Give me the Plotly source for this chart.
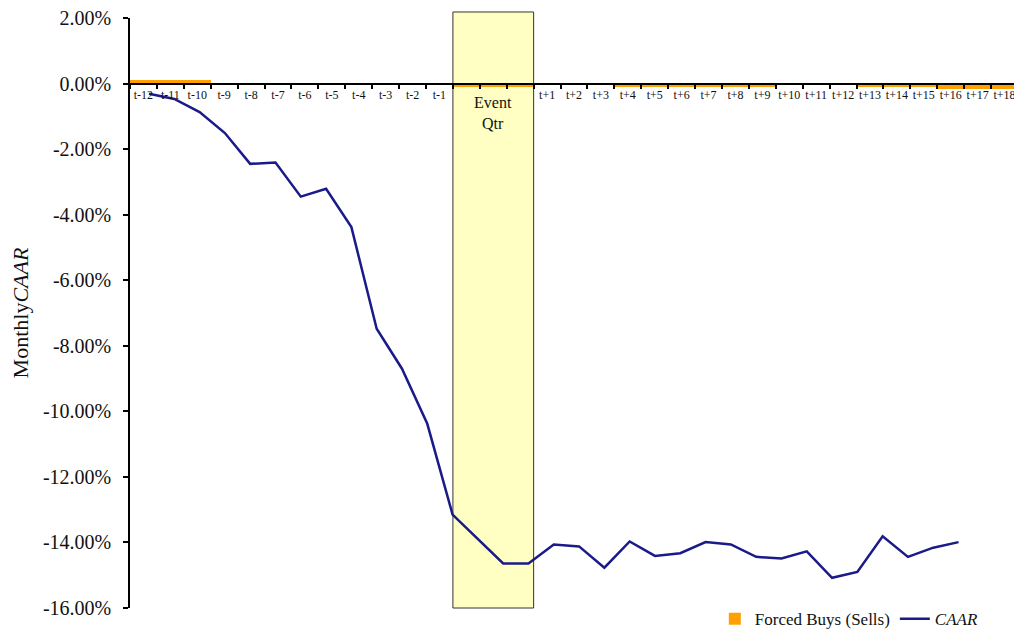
import plotly.graph_objects as go

# ---- data ----
months = ["t-12", "t-11", "t-10", "t-9", "t-8", "t-7", "t-6", "t-5", "t-4", "t-3", "t-2", "t-1",
          "E1", "E2", "E3",
          "t+1", "t+2", "t+3", "t+4", "t+5", "t+6", "t+7", "t+8", "t+9", "t+10", "t+11", "t+12",
          "t+13", "t+14", "t+15", "t+16", "t+17", "t+18"]
event_months = ["E1", "E2", "E3"]
month_labels = ["" if m in event_months else m for m in months]

forced_buys = [0.10, 0.10, 0.10, 0.0, 0.0, 0.0, 0.0, 0.0, 0.0, 0.0, 0.0, 0.0,
               -0.09, -0.09, -0.09,
               -0.05, -0.05, -0.05, -0.12, -0.12, -0.12, -0.12, -0.12, -0.12,
               -0.02, -0.02, -0.02, -0.12, -0.12, -0.12, -0.16, -0.16, -0.16]

caar_months = ["t-12", "t-11", "t-10", "t-9", "t-8", "t-7", "t-6", "t-5", "t-4", "t-3", "t-2", "t-1",
               "E1", "E3",
               "t+1", "t+2", "t+3", "t+4", "t+5", "t+6", "t+7", "t+8", "t+9", "t+10", "t+11", "t+12",
               "t+13", "t+14", "t+15", "t+16", "t+17", "t+18"]
caar = [-0.31, -0.47, -0.87, -1.51, -2.45, -2.41, -3.45, -3.21, -4.38, -7.48, -8.70, -10.38,
        -13.15, -14.64,
        -14.64, -14.06, -14.12, -14.77, -13.97, -14.41, -14.33, -13.99, -14.06, -14.44, -14.49, -14.27,
        -15.08, -14.90, -13.81, -14.44, -14.16, -13.99]

y_ticks = [2, 0, -2, -4, -6, -8, -10, -12, -14, -16]
y_ticktext = [f"{v:.2f}%" for v in y_ticks]

FONT = "Liberation Serif, Times New Roman, serif"

fig = go.Figure()
fig.add_trace(go.Bar(
    x=months, y=forced_buys, name="Forced Buys (Sells)",
    marker=dict(color="#FFA000", line=dict(width=0)), width=1.0,
    xaxis="x", yaxis="y",
))
fig.add_trace(go.Scatter(
    x=caar_months, y=caar, name="<i>CAAR</i>", mode="lines",
    line=dict(color="#1a1a88", width=2.5),
    xaxis="x2", yaxis="y",
))

e0 = months.index(event_months[0]) - 0.5
e1 = months.index(event_months[-1]) + 0.5
emid = months.index(event_months[1])

fig.add_shape(type="rect", xref="x", yref="paper", x0=e0, x1=e1, y0=0, y1=1.0102,
              fillcolor="#FFFFC4", line=dict(color="#333333", width=1), layer="below")
fig.add_annotation(x=emid, y=-0.9, xref="x", yref="y", text="Event<br>Qtr", showarrow=False,
                   font=dict(family=FONT, size=16, color="#111111"), yanchor="middle")

# the page body adds an 8px offset, so the figure is sized 8px smaller
fig.update_layout(
    width=1014, height=622,
    margin=dict(l=122, r=4, t=10, b=22, autoexpand=False),
    paper_bgcolor="white", plot_bgcolor="rgba(0,0,0,0)",
    font=dict(family=FONT, color="#111111"),
    bargap=0,
    showlegend=True,
    legend=dict(orientation="h", x=0.9615, xanchor="right", y=-0.019, yanchor="middle",
                font=dict(family=FONT, size=17), bgcolor="rgba(0,0,0,0)", traceorder="normal"),
    xaxis=dict(
        type="category", categoryorder="array", categoryarray=months,
        range=[-0.5, len(months) - 0.5],
        anchor="free", position=16 / 18,
        showline=True, linecolor="black", linewidth=2,
        ticks="outside", ticklen=4, tickcolor="black", tickwidth=1.5, tickson="boundaries",
        tickvals=months, ticktext=month_labels, tickangle=0,
        tickfont=dict(family=FONT, size=12, color="#111111"),
        showgrid=False, zeroline=False, automargin=False, ticklabeloverflow="allow",
    ),
    xaxis2=dict(
        type="category", categoryorder="array", categoryarray=months,
        overlaying="x", anchor="y", range=[-0.751, 34.35], visible=False,
    ),
    yaxis=dict(
        range=[-16, 2], tickvals=y_ticks, ticktext=y_ticktext,
        showline=True, linecolor="black", linewidth=1.5,
        ticks="outside", ticklen=5, tickcolor="black", tickwidth=1.5,
        ticklabelstandoff=8, ticklabeloverflow="allow",
        tickfont=dict(family=FONT, size=20, color="#111111"),
        showgrid=False, zeroline=False, automargin=False,
        title=dict(text="Monthly<i>CAAR</i>", font=dict(family=FONT, size=22, color="#111111"), standoff=14),
    ),
)

fig.write_html("out.html")
